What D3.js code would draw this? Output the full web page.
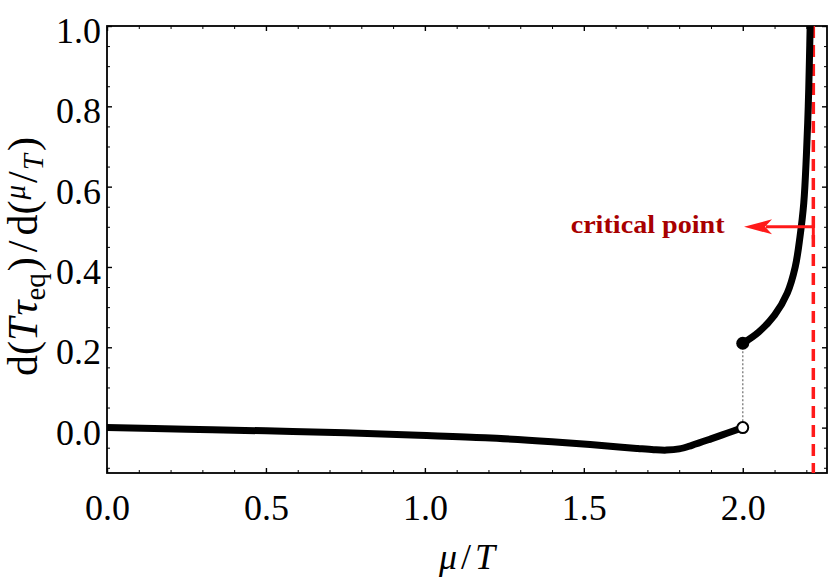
<!DOCTYPE html>
<html>
<head>
<meta charset="utf-8">
<script src="https://cdn.jsdelivr.net/npm/d3@7"></script>
</head>
<body style="margin:0; background:#fff">
<div id="root"></div>
<script>
// lower branch (mu/T < 2)
const lowerMu = [0, 0.25, 0.5, 0.75, 0.98, 1.19, 1.4, 1.52, 1.61, 1.67, 1.72, 1.76, 1.8, 1.84, 1.9, 1.95, 2.0];
const lowerY = [0.0, -0.004, -0.008, -0.013, -0.019, -0.025, -0.035, -0.042, -0.048, -0.052, -0.055, -0.056, -0.053, -0.044, -0.028, -0.014, 0.0];

// upper branch (2 < mu/T < critical point)
const upperMu = [2.0, 2.05, 2.1, 2.14, 2.165, 2.18, 2.192, 2.2, 2.206, 2.21, 2.212];
const upperY = [0.21, 0.238, 0.28, 0.335, 0.4, 0.475, 0.56, 0.675, 0.8, 0.925, 1.0];

const muCritical = 2.222;
const arrowY = 0.5, arrowTipMu = 2.004;
const labelMu = 1.943, labelY = 0.485;

const xMajor = [0, 0.5, 1.0, 1.5, 2.0];
const xMinor = [0.1, 0.2, 0.3, 0.4, 0.6, 0.7, 0.8, 0.9, 1.1, 1.2, 1.3, 1.4, 1.6, 1.7, 1.8, 1.9, 2.1, 2.2];
const yMajor = [0.0, 0.2, 0.4, 0.6, 0.8, 1.0];
const yMinor = [-0.1, -0.05, 0.05, 0.1, 0.15, 0.25, 0.3, 0.35, 0.45, 0.5, 0.55, 0.65, 0.7, 0.75, 0.85, 0.9, 0.95];

const SERIF = "'Liberation Serif'";

const width = 830,
  height = 587,
  margins = { top: 26, right: 3, bottom: 114, left: 107 };
const innerW = width - margins.left - margins.right,
  innerH = height - margins.top - margins.bottom;

const x = d3.scaleLinear().domain([0, 2.265]).range([0, innerW]);
const y = d3.scaleLinear().domain([-0.113, 1.0]).range([innerH, 0]);

const svg = d3.select("#root").append("svg")
  .attr("width", width)
  .attr("height", height)
  .attr("viewBox", [0, 0, width, height]);

svg.append("defs").append("clipPath").attr("id", "plot-clip")
  .append("rect").attr("width", innerW).attr("height", innerH);

const g = svg.append("g").attr("transform", `translate(${margins.left}, ${margins.top})`);

// ticks on all four sides, pointing inward
function frameAxis(axisFn, scale, values, size, labels) {
  const a = axisFn(scale).tickValues(values).tickSize(-size);
  if (labels) a.tickFormat(d3.format(".1f"));
  else a.tickFormat("");
  return a;
}

const axes = [
  { fn: d3.axisBottom, s: x, t: `translate(0,${innerH})`, major: xMajor, minor: xMinor, labels: true },
  { fn: d3.axisTop, s: x, t: "translate(0,0)", major: xMajor, minor: xMinor, labels: false },
  { fn: d3.axisLeft, s: y, t: "translate(0,0)", major: yMajor, minor: yMinor, labels: true },
  { fn: d3.axisRight, s: y, t: `translate(${innerW},0)`, major: yMajor, minor: yMinor, labels: false },
];

axes.forEach((ax) => {
  g.append("g").attr("transform", ax.t)
    .call(frameAxis(ax.fn, ax.s, ax.minor, 3, false))
    .call((sel) => sel.select(".domain").remove());
  const major = g.append("g").attr("class", "major").attr("transform", ax.t)
    .call(frameAxis(ax.fn, ax.s, ax.major, 5, ax.labels).tickPadding(ax.fn === d3.axisBottom ? 21 : 6))
    .call((sel) => sel.select(".domain").remove());
  major.selectAll(".tick line").attr("stroke-width", 1.4);
  major.selectAll(".tick text")
    .attr("fill", "#000")
    .style("font-family", SERIF)
    .style("font-size", "36px");
  if (ax.fn === d3.axisLeft) major.selectAll(".tick text").attr("dy", "0.46em");
});
g.selectAll(".tick line").attr("stroke", "#000");

// frame
g.append("rect")
  .attr("width", innerW)
  .attr("height", innerH)
  .attr("fill", "none")
  .attr("stroke", "#000")
  .attr("stroke-width", 1.8);

const plot = g.append("g").attr("clip-path", "url(#plot-clip)");

// critical point line
plot.append("line")
  .attr("x1", x(muCritical)).attr("x2", x(muCritical))
  .attr("y1", 0).attr("y2", innerH)
  .attr("stroke", "#ff1a1a")
  .attr("stroke-width", 3.5)
  .attr("stroke-dasharray", "12,7");

const line = d3.line()
  .x((d) => x(d[0]))
  .y((d) => y(d[1]))
  .curve(d3.curveCatmullRom.alpha(0.5));

// jump between branches
plot.append("line")
  .attr("x1", x(2.0)).attr("x2", x(2.0))
  .attr("y1", y(upperY[0])).attr("y2", y(lowerY[lowerY.length - 1]))
  .attr("stroke", "#8a8a8a")
  .attr("stroke-width", 1.5)
  .attr("stroke-dasharray", "2,2");

plot.append("path")
  .datum(d3.zip(lowerMu, lowerY))
  .attr("d", line)
  .attr("fill", "none")
  .attr("stroke", "#000")
  .attr("stroke-width", 7);

plot.append("path")
  .datum(d3.zip(upperMu, upperY))
  .attr("d", line)
  .attr("fill", "none")
  .attr("stroke", "#000")
  .attr("stroke-width", 7);

plot.append("circle")
  .attr("cx", x(upperMu[0])).attr("cy", y(upperY[0]))
  .attr("r", 6.5).attr("fill", "#000");

plot.append("circle")
  .attr("cx", x(lowerMu[lowerMu.length - 1])).attr("cy", y(lowerY[lowerY.length - 1]))
  .attr("r", 5.5).attr("fill", "#fff")
  .attr("stroke", "#000").attr("stroke-width", 2);

// arrow pointing away from the critical line
const tipX = x(arrowTipMu), ay = y(arrowY);
g.append("line")
  .attr("x1", x(muCritical)).attr("x2", tipX + 22)
  .attr("y1", ay).attr("y2", ay)
  .attr("stroke", "#ff1a1a")
  .attr("stroke-width", 3);
g.append("line")
  .attr("x1", x(muCritical)).attr("x2", x(muCritical))
  .attr("y1", ay).attr("y2", ay + 12)
  .attr("stroke", "#ff1a1a")
  .attr("stroke-width", 3);
g.append("path")
  .attr("d", `M${tipX},${ay} L${tipX + 28},${ay - 7.5} L${tipX + 21},${ay} L${tipX + 28},${ay + 7.5} Z`)
  .attr("fill", "#ff1a1a");

g.append("text")
  .attr("x", x(labelMu))
  .attr("y", y(labelY))
  .attr("text-anchor", "end")
  .attr("fill", "#a80000")
  .attr("font-weight", "bold")
  .attr("textLength", 154)
  .attr("lengthAdjust", "spacingAndGlyphs")
  .style("font-family", SERIF)
  .style("font-size", "26px")
  .text("critical point");

// x label
const xl = svg.append("text")
  .attr("x", margins.left + innerW / 2)
  .attr("y", 569)
  .attr("text-anchor", "middle")
  .style("font-family", SERIF)
  .style("font-size", "36px");
xl.append("tspan").attr("font-style", "italic").text("μ");
xl.append("tspan").attr("dx", 4).text("/");
xl.append("tspan").attr("dx", 4).attr("font-style", "italic").text("T");

// y label
const yl = svg.append("text")
  .attr("transform", `translate(37, ${margins.top + innerH / 2 + 7}) rotate(-90)`)
  .attr("text-anchor", "middle")
  .style("font-family", SERIF)
  .style("font-size", "42px");
yl.append("tspan").text("d(");
yl.append("tspan").attr("font-style", "italic").text("T");
yl.append("tspan").attr("font-style", "italic").attr("dx", 2).text("τ");
yl.append("tspan").style("font-size", "29px").attr("dy", 8).text("eq");
yl.append("tspan").attr("dy", -8).attr("dx", 2).text(")");
yl.append("tspan").attr("dx", 5).text("/");
yl.append("tspan").attr("dx", 5).text("d(");
yl.append("tspan").attr("font-style", "italic").style("font-size", "29px").attr("dy", -12).attr("dx", 1).text("μ");
yl.append("tspan").attr("dy", 12).attr("dx", 2).text("/");
yl.append("tspan").attr("font-style", "italic").style("font-size", "29px").attr("dy", 6).attr("dx", 1).text("T");
yl.append("tspan").attr("dy", -6).attr("dx", 3).text(")");
</script>
</body>
</html>
